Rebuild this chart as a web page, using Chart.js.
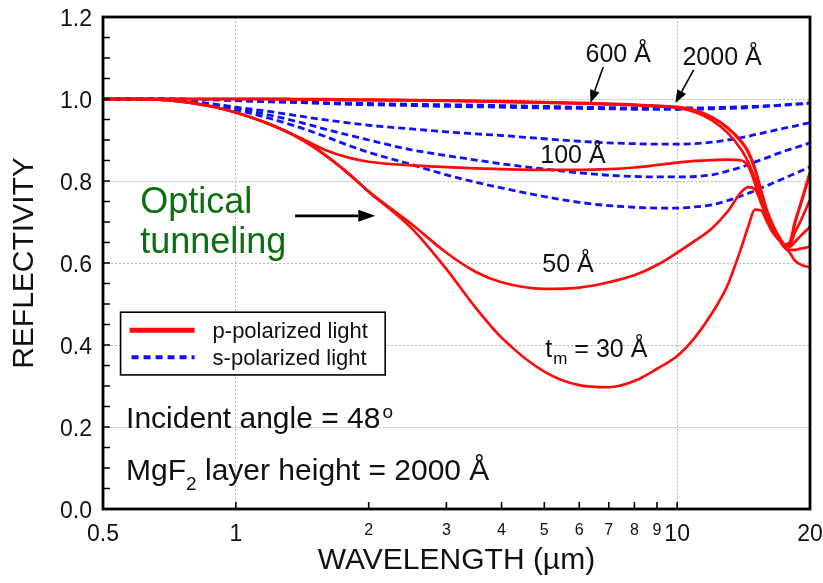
<!DOCTYPE html>
<html>
<head>
<meta charset="utf-8">
<title>Reflectivity vs wavelength</title>
<script src="https://cdn.jsdelivr.net/npm/chart.js@4.4.1/dist/chart.umd.min.js"></script>
<style>
  html, body { margin: 0; padding: 0; background: #fff; }
  #wrap { width: 823px; height: 583px; }
</style>
</head>
<body>
<div id="wrap"><canvas id="refl-chart" width="823" height="583"></canvas></div>
<script>
// --- data: wavelength in µm, reflectivity per metal thickness t_m ---
const wavelengths = [0.5, 0.6, 0.7, 0.8, 0.9, 1.0, 1.2, 1.4, 1.6, 1.8, 2.0, 2.5, 3, 3.5, 4, 5, 6, 7, 8, 9,
    10, 11, 12, 13, 14, 14.5, 15, 15.5, 16, 16.5, 17, 17.5, 18, 18.5, 19, 19.5, 20];

// p-polarized
const p2000 = [1.0, 1.0, 1.0, 1.0, 1.0, 1.0, 1.0, 0.999, 0.999, 0.998, 0.998, 0.997, 0.996, 0.995, 0.994, 0.992, 0.99, 0.988, 0.986, 0.983,
    0.98, 0.972, 0.955, 0.93, 0.895, 0.87, 0.83, 0.775, 0.725, 0.69, 0.663, 0.645, 0.65, 0.70, 0.74, 0.78, 0.82];
const p600 = [1.0, 1.0, 1.0, 1.0, 1.0, 1.0, 1.0, 0.999, 0.999, 0.998, 0.998, 0.997, 0.996, 0.995, 0.993, 0.991, 0.989, 0.987, 0.985, 0.982,
    0.979, 0.968, 0.948, 0.918, 0.875, 0.845, 0.805, 0.76, 0.715, 0.685, 0.66, 0.643, 0.645, 0.675, 0.70, 0.727, 0.754];
const p100 = [1.0, 1.0, 0.997, 0.99, 0.98, 0.967, 0.938, 0.905, 0.875, 0.857, 0.847, 0.838, 0.834, 0.831, 0.829, 0.827, 0.827, 0.829, 0.833, 0.839,
    0.845, 0.849, 0.851, 0.852, 0.85, 0.835, 0.795, 0.745, 0.715, 0.69, 0.665, 0.645, 0.64, 0.652, 0.665, 0.677, 0.688];
const p50 = [1.0, 1.0, 0.997, 0.99, 0.98, 0.967, 0.937, 0.903, 0.862, 0.818, 0.774, 0.695, 0.625, 0.578, 0.553, 0.537, 0.54, 0.553, 0.57, 0.595,
    0.625, 0.655, 0.685, 0.725, 0.774, 0.785, 0.78, 0.75, 0.712, 0.68, 0.66, 0.642, 0.632, 0.632, 0.635, 0.637, 0.64];
const p30 = [1.0, 1.0, 0.997, 0.99, 0.98, 0.967, 0.937, 0.903, 0.862, 0.818, 0.774, 0.685, 0.585, 0.49, 0.418, 0.335, 0.302, 0.297, 0.312, 0.342,
    0.373, 0.42, 0.478, 0.545, 0.64, 0.69, 0.73, 0.728, 0.70, 0.673, 0.656, 0.638, 0.625, 0.605, 0.597, 0.592, 0.59];

// s-polarized
const s2000 = [1.0, 1.0, 1.0, 0.999, 0.998, 0.997, 0.995, 0.993, 0.991, 0.99, 0.989, 0.987, 0.986, 0.985, 0.984, 0.982, 0.98, 0.979, 0.978, 0.978,
    0.978, 0.978, 0.979, 0.98, 0.981, 0.982, 0.982, 0.983, 0.984, 0.984, 0.985, 0.986, 0.987, 0.988, 0.988, 0.989, 0.99];
const s600 = [1.0, 1.0, 1.0, 0.999, 0.998, 0.996, 0.993, 0.991, 0.989, 0.987, 0.986, 0.984, 0.982, 0.981, 0.98, 0.978, 0.977, 0.976, 0.975, 0.975,
    0.975, 0.975, 0.976, 0.977, 0.978, 0.979, 0.98, 0.981, 0.982, 0.983, 0.984, 0.985, 0.986, 0.987, 0.988, 0.989, 0.99];
const s100 = [1.0, 1.0, 0.998, 0.993, 0.987, 0.98, 0.969, 0.958, 0.949, 0.942, 0.936, 0.927, 0.92, 0.915, 0.911, 0.903, 0.897, 0.893, 0.891, 0.89,
    0.89, 0.891, 0.895, 0.90, 0.906, 0.909, 0.913, 0.916, 0.92, 0.923, 0.926, 0.929, 0.932, 0.934, 0.937, 0.94, 0.942];
const s50 = [1.0, 1.0, 0.998, 0.993, 0.986, 0.978, 0.96, 0.943, 0.926, 0.912, 0.90, 0.876, 0.862, 0.851, 0.842, 0.829, 0.82, 0.814, 0.811, 0.81,
    0.81, 0.811, 0.815, 0.824, 0.834, 0.84, 0.846, 0.852, 0.857, 0.863, 0.868, 0.873, 0.877, 0.881, 0.885, 0.889, 0.893];
const s30 = [1.0, 1.0, 0.997, 0.992, 0.984, 0.974, 0.952, 0.93, 0.908, 0.887, 0.87, 0.84, 0.815, 0.797, 0.783, 0.762, 0.748, 0.74, 0.736, 0.734,
    0.734, 0.737, 0.742, 0.752, 0.764, 0.77, 0.776, 0.783, 0.789, 0.795, 0.801, 0.807, 0.813, 0.818, 0.824, 0.829, 0.835];

const xTickValues = [0.5, 1, 2, 3, 4, 5, 6, 7, 8, 9, 10, 20];
const xBigLabels = [0.5, 1, 10, 20];
const xGridValues = [1, 10];

const FONT = '"Liberation Sans", Arial, Helvetica, sans-serif';
const RED = '#ff0a0a';
const BLUE = '#1010ff';

function toPoints(arr) {
    return wavelengths.map((w, i) => ({ x: w, y: arr[i] }));
}

function pSet(label, arr, width) {
    return {
        label: label, data: toPoints(arr), borderColor: RED, borderWidth: width || 2.7,
        pointRadius: 0, cubicInterpolationMode: 'monotone', order: 1
    };
}
function sSet(label, arr) {
    return {
        label: label, data: toPoints(arr), borderColor: BLUE, borderWidth: 2.8, borderDash: [7, 4],
        pointRadius: 0, cubicInterpolationMode: 'monotone', order: 2
    };
}

// --- drawing helpers for the text and arrows on the plot ---
function drawText(ctx, str, x, y, size, color, align) {
    ctx.font = size + 'px ' + FONT;
    ctx.fillStyle = color || '#111';
    ctx.textAlign = align || 'left';
    ctx.textBaseline = 'alphabetic';
    ctx.fillText(str, x, y);
    return ctx.measureText(str).width;
}

function drawArrow(ctx, x1, y1, x2, y2, width, headLen, headHalf) {
    const ang = Math.atan2(y2 - y1, x2 - x1);
    const bx = x2 - headLen * Math.cos(ang), by = y2 - headLen * Math.sin(ang);
    ctx.strokeStyle = '#000';
    ctx.fillStyle = '#000';
    ctx.lineWidth = width;
    ctx.beginPath();
    ctx.moveTo(x1, y1);
    ctx.lineTo(bx, by);
    ctx.stroke();
    ctx.beginPath();
    ctx.moveTo(x2, y2);
    ctx.lineTo(bx + headHalf * Math.sin(ang), by - headHalf * Math.cos(ang));
    ctx.lineTo(bx - headHalf * Math.sin(ang), by + headHalf * Math.cos(ang));
    ctx.closePath();
    ctx.fill();
}

// frame, inward ticks, legend box and labels
const plotDecor = {
    id: 'plotDecor',
    afterDatasetsDraw(chart) {
        const { ctx, chartArea: a, scales: { x, y } } = chart;
        const px = v => x.getPixelForValue(v);
        const py = v => y.getPixelForValue(v);
        ctx.save();

        // inward tick marks
        ctx.strokeStyle = '#000';
        ctx.lineWidth = 1.6;
        ctx.beginPath();
        y.ticks.forEach(t => {
            if (t.value <= 0.001 || t.value >= 1.199) return;
            const yy = py(t.value);
            ctx.moveTo(a.left, yy);
            ctx.lineTo(a.left + 7, yy);
        });
        xTickValues.forEach(v => {
            if (v <= 0.5 || v >= 20) return;
            const xx = px(v);
            ctx.moveTo(xx, a.bottom);
            ctx.lineTo(xx, a.bottom - 7);
        });
        ctx.stroke();

        // frame
        ctx.lineWidth = 2.8;
        ctx.strokeRect(a.left, a.top, a.right - a.left, a.bottom - a.top);

        // legend
        const lx = px(0.548), ly = py(0.48);
        const lw = px(2.18) - lx, lh = py(0.327) - ly;
        ctx.fillStyle = '#fff';
        ctx.fillRect(lx, ly, lw, lh);
        ctx.lineWidth = 1.6;
        ctx.strokeRect(lx, ly, lw, lh);
        ctx.lineWidth = 5;
        ctx.strokeStyle = RED;
        ctx.beginPath();
        ctx.moveTo(lx + 9, ly + 18);
        ctx.lineTo(lx + 74, ly + 18);
        ctx.stroke();
        ctx.lineWidth = 4;
        ctx.strokeStyle = BLUE;
        ctx.setLineDash([7, 5]);
        ctx.beginPath();
        ctx.moveTo(lx + 11, ly + 45);
        ctx.lineTo(lx + 74, ly + 45);
        ctx.stroke();
        ctx.setLineDash([]);
        drawText(ctx, 'p-polarized light', lx + 92, ly + 26, 22);
        drawText(ctx, 's-polarized light', lx + 92, ly + 53, 22);

        // thickness labels
        drawText(ctx, '600 Å', px(6.2), py(1.09), 25);
        drawText(ctx, '2000 Å', px(10.28), py(1.083), 25);
        drawText(ctx, '100 Å', px(4.895), py(0.844), 25);
        drawText(ctx, '50 Å', px(4.948), py(0.578), 25);
        let tx = px(5.026);
        const tb = py(0.371);
        tx += drawText(ctx, 't', tx, tb, 25);
        tx += drawText(ctx, 'm', tx + 1, tb + 7, 17) + 1;
        drawText(ctx, ' = 30 Å', tx, tb, 25);

        drawArrow(ctx, px(6.8), py(1.078), px(6.36), py(0.99), 1.6, 13, 5);
        drawArrow(ctx, px(10.9), py(1.071), px(9.91), py(0.99), 1.6, 13, 5);

        // optical tunneling note
        drawText(ctx, 'Optical', px(0.607), py(0.722), 36, '#0b6e10');
        drawText(ctx, 'tunneling', px(0.607), py(0.624), 36, '#0b6e10');
        drawArrow(ctx, px(1.362), py(0.715), px(2.07), py(0.715), 2.6, 17, 6);

        // conditions
        let ix = px(0.564);
        const ib = py(0.1976);
        ix += drawText(ctx, 'Incident angle = 48', ix, ib, 30);
        drawText(ctx, 'o', ix + 2, ib - 10, 19);
        let mx = px(0.564);
        const mb = py(0.0707);
        mx += drawText(ctx, 'MgF', mx, mb, 30);
        mx += drawText(ctx, '2', mx, mb + 10, 19);
        drawText(ctx, ' layer height = 2000 Å', mx, mb, 30);

        ctx.restore();
    }
};

const ctx = document.getElementById('refl-chart').getContext('2d');
new Chart(ctx, {
    type: 'line',
    data: {
        datasets: [
            sSet('s 2000 Å', s2000),
            sSet('s 600 Å', s600),
            sSet('s 100 Å', s100),
            sSet('s 50 Å', s50),
            sSet('s 30 Å', s30),
            pSet('p 2000 Å', p2000, 3.2),
            pSet('p 600 Å', p600),
            pSet('p 100 Å', p100),
            pSet('p 50 Å', p50),
            pSet('p 30 Å', p30)
        ]
    },
    options: {
        responsive: false,
        animation: false,
        events: [],
        layout: { padding: { top: 17, right: 13, left: 0, bottom: 0 } },
        plugins: {
            legend: { display: false },
            tooltip: { enabled: false }
        },
        scales: {
            x: {
                type: 'logarithmic',
                min: 0.5,
                max: 20,
                afterBuildTicks: scale => {
                    scale.ticks = xTickValues.map(v => ({ value: v }));
                },
                afterFit: scale => {
                    scale.height = 74;
                    scale.paddingLeft = 0;
                    scale.paddingRight = 0;
                },
                ticks: {
                    autoSkip: false,
                    maxRotation: 0,
                    padding: 12,
                    color: '#111',
                    callback: v => String(v),
                    font: c => ({
                        family: FONT,
                        size: c.tick && xBigLabels.includes(c.tick.value) ? 23 : 16
                    })
                },
                grid: {
                    drawTicks: false,
                    lineWidth: 1,
                    color: c => (c.tick && xGridValues.includes(c.tick.value)) ? '#b8b8b8' : 'rgba(0,0,0,0)'
                },
                border: { display: false, dash: [2, 2] },
                title: {
                    display: true,
                    text: 'WAVELENGTH (µm)',
                    color: '#111',
                    font: { family: FONT, size: 30 },
                    padding: { top: 0, bottom: 4 }
                }
            },
            y: {
                min: 0,
                max: 1.2,
                afterFit: scale => {
                    scale.width = 103;
                    scale.paddingTop = 0;
                    scale.paddingBottom = 0;
                },
                ticks: {
                    stepSize: 0.05,
                    autoSkip: false,
                    padding: 11,
                    labelOffset: 3,
                    color: '#111',
                    font: { family: FONT, size: 23 },
                    callback: v => (Math.round(v * 20) % 4 === 0 ? v.toFixed(1) : '')
                },
                grid: {
                    drawTicks: false,
                    lineWidth: 1,
                    color: c => {
                        if (!c.tick) return 'rgba(0,0,0,0)';
                        const k = Math.round(c.tick.value * 20);
                        return (k % 4 === 0 && k > 0 && k < 24) ? '#b8b8b8' : 'rgba(0,0,0,0)';
                    }
                },
                border: { display: false, dash: [2, 2] },
                title: {
                    display: true,
                    text: 'REFLECTIVITY',
                    color: '#111',
                    font: { family: FONT, size: 30 },
                    padding: { top: 7, bottom: 0 }
                }
            }
        }
    },
    plugins: [plotDecor]
});
</script>
</body>
</html>
